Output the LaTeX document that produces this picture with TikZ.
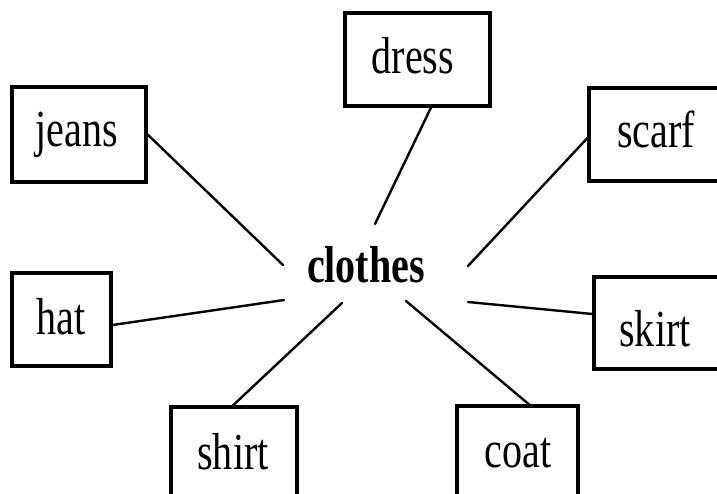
\documentclass[tikz,border=0pt]{standalone}
\usepackage{fontspec}
\setmainfont{Liberation Serif}[FakeStretch=0.77]
\usetikzlibrary{calc}
\tikzset{
  box/.style={draw, line width=3.2pt, rectangle, inner sep=0pt},
  lbl/.style={anchor=base, inner sep=0pt, font=\fontsize{52}{52}\selectfont},
  hub/.style={anchor=base, inner sep=0pt, font=\fontsize{52}{52}\selectfont\bfseries},
  conn/.style={line width=2.4pt, line cap=round}
}
\begin{document}
\begin{tikzpicture}[x=1pt,y=-1pt]
\useasboundingbox (0,0) rectangle (717,494);
\clip (0,0) rectangle (717,494);
% boxes
\node[box, minimum width=134pt, minimum height=95pt] (jeans) at (79,134.5) {};
\node[box, minimum width=145pt, minimum height=93pt] (dress) at (417.5,59.5) {};
\node[box, minimum width=146pt, minimum height=93pt] (scarf) at (662,134.5) {};
\node[box, minimum width=99pt, minimum height=93pt] (hat) at (61.5,319.5) {};
\node[box, minimum width=146pt, minimum height=92pt] (skirt) at (667,323) {};
\node[box, minimum width=126pt, minimum height=113pt] (shirt) at (234,463.5) {};
\node[box, minimum width=121pt, minimum height=114pt] (coat) at (517.5,463) {};
% labels
\node[lbl] (tjeans) at (77,147) {jeans};
\node[lbl] (tdress) at (413,74) {dress};
\node[lbl] (tscarf) at (656,148) {scarf};
\node[lbl] (that) at (61,334) {hat};
\node[lbl] (tskirt) at (655,346) {skirt};
\node[lbl] (tshirt) at (233,469) {shirt};
\node[lbl] (tcoat) at (518,467) {coat};
\node[hub] (clothes) at (366,283) {clothes};
% free ends near the hub
\coordinate (eJ) at (283,265);
\coordinate (eD) at (375,224);
\coordinate (eS) at (468,266);
\coordinate (eH) at (284,300);
\coordinate (eK) at (468,302);
\coordinate (eT) at (342,303);
\coordinate (eC) at (406,301);
% connectors
\draw[conn] (jeans.east) -- (eJ);
\draw[conn] ($(dress.south)+(13.5,0)$) -- (eD);
\draw[conn] ($(scarf.west)+(0,3.5)$) -- (eS);
\draw[conn] ($(hat.east)+(0,5.5)$) -- (eH);
\draw[conn] ($(skirt.west)+(0,-9)$) -- (eK);
\draw[conn] ($(shirt.north)+(-1,0)$) -- (eT);
\draw[conn] ($(coat.north)+(11.5,0)$) -- (eC);
\end{tikzpicture}
\end{document}
